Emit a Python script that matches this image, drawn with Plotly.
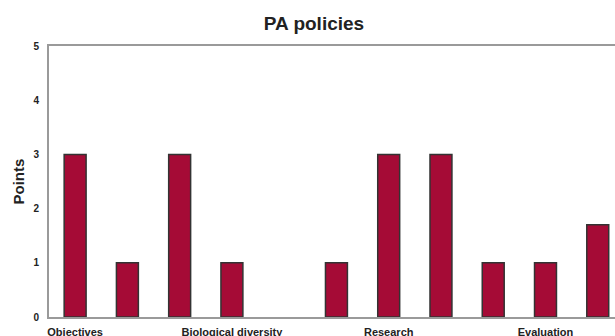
import plotly.graph_objects as go

# Policy items (labels shown for every third item) and their scores;
# None marks an item with no score
categories = ["Objectives", "", "", "Biological diversity", "", "",
              "Research", "", "", "Evaluation", ""]
points = [3, 1, 3, 1, None, 1, 3, 3, 1, 1, 1.7]
y_ticks = [0, 1, 2, 3, 4, 5]

positions = list(range(len(categories)))

BAR_COLOR = "#A50B36"
AXIS_COLOR = "#9A9A9A"
FONT = "Liberation Sans, Arial, Helvetica, sans-serif"

fig = go.Figure()
fig.add_trace(go.Bar(
    x=positions,
    y=points,
    width=0.42,
    marker=dict(color=BAR_COLOR, line=dict(color="#333333", width=1.5)),
    hoverinfo="y",
))

fig.update_layout(
    width=615,
    height=336,
    margin=dict(l=49, r=0, t=46, b=19),
    paper_bgcolor="white",
    plot_bgcolor="white",
    showlegend=False,
    font=dict(family=FONT, color="#222222"),
    title=dict(
        text="<b>PA policies</b>",
        x=314 / 615, xanchor="center",
        y=1 - 23 / 336, yanchor="middle",
        font=dict(size=19, family=FONT, color="#222222"),
    ),
    xaxis=dict(
        range=[-0.5, 10.33],
        automargin=False,
        tickmode="array",
        tickvals=positions,
        ticktext=[f"<b>{c}</b>" if c else "" for c in categories],
        tickfont=dict(size=11, family=FONT, color="#222222"),
        showgrid=False,
        zeroline=False,
        showline=True,
        mirror=True,
        linecolor=AXIS_COLOR,
        linewidth=2,
        ticks="outside",
        ticklen=4,
        tickcolor="rgba(0,0,0,0)",
    ),
    yaxis=dict(
        range=[0, 5],
        automargin=False,
        tickmode="array",
        tickvals=y_ticks,
        ticktext=[f"<b>{v}</b>" for v in y_ticks],
        tickfont=dict(size=10, family=FONT, color="#222222"),
        showgrid=False,
        zeroline=False,
        showline=True,
        linecolor=AXIS_COLOR,
        linewidth=2,
        ticks="outside",
        ticklen=6,
        tickcolor="rgba(0,0,0,0)",
    ),
    annotations=[dict(
        text="<b>Points</b>",
        xref="paper", yref="paper",
        x=-31 / 566, y=0.5,
        xanchor="center", yanchor="middle",
        textangle=-90,
        showarrow=False,
        font=dict(size=15, family=FONT, color="#222222"),
    )],
)

fig.write_html("out.html")
